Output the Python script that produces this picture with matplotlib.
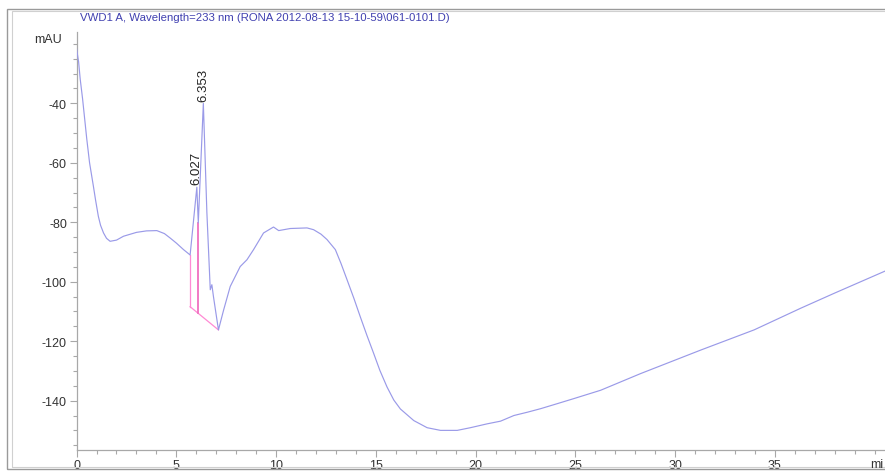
import matplotlib
matplotlib.use("Agg")
import matplotlib.pyplot as plt
from matplotlib.ticker import MultipleLocator
from matplotlib.patches import Rectangle

plt.rcParams['font.family'] = ['Liberation Sans', 'DejaVu Sans']
plt.rcParams['axes.unicode_minus'] = False

title = r"VWD1 A, Wavelength=233 nm (RONA 2012-08-13 15-10-59\061-0101.D)"

time_min = [0.0, 0.1, 0.18, 0.3, 0.51, 0.65, 0.84, 0.95, 1.09, 1.2, 1.35, 1.5, 1.68,
            2.0, 2.35, 3.0, 3.5, 4.02, 4.4, 4.69, 5.0, 5.36, 5.69, 6.027, 6.10,
            6.353, 6.53, 6.70, 6.78, 6.86, 7.11, 7.37, 7.70, 8.2, 8.54, 8.87,
            9.37, 9.87, 10.13, 10.71, 11.55, 11.88, 12.25, 12.55, 12.97, 13.25,
            13.56, 13.9, 14.22, 14.55, 14.89, 15.2, 15.56, 15.9, 16.23, 16.9,
            17.57, 18.24, 19.08, 19.74, 20.58, 21.25, 21.92, 22.59, 23.26, 24.1,
            24.93, 26.27, 28.27, 31.28, 33.96, 36.3, 37.97, 40.6]
signal_mau = [-21.7, -26.0, -31.8, -38.5, -52.0, -60.0, -67.8, -72.5, -78.0, -81.0,
              -83.6, -85.4, -86.4, -86.0, -84.7, -83.4, -82.9, -82.8, -83.8, -85.3,
              -87.0, -89.2, -91.0, -68.2, -80.2, -40.0, -76.7, -102.7, -101.0,
              -105.0, -116.2, -109.5, -101.6, -94.9, -92.6, -89.2, -83.6, -81.6,
              -82.8, -82.1, -81.9, -82.5, -84.0, -85.8, -89.2, -93.8, -99.4, -105.6,
              -111.8, -118.0, -124.1, -129.8, -135.4, -139.8, -142.8, -146.7, -149.1,
              -150.0, -150.0, -149.1, -147.8, -146.9, -145.0, -143.9, -142.7, -141.0,
              -139.3, -136.5, -130.9, -123.0, -116.2, -108.9, -103.9, -96.2]

# integration baseline (start, end) and drop lines
baseline_t = [5.69, 7.11]
baseline_v = [-108.4, -116.2]
drop_t = [5.69, 6.10]
drop_top = [-91.0, -80.2]
drop_bottom = [-108.4, -110.65]

peak_t = [6.027, 6.353]
peak_v = [-68.2, -40.0]
peak_labels = ["6.027", "6.353"]

W, H = 885, 477
fig = plt.figure(figsize=(W / 100, H / 100), dpi=100)
ax = fig.add_axes([76.6 / W, 1 - 450.7 / H, 1 - 76.6 / W, (450.7 - 33.3) / H])

line_col = '#9a9ae8'
pink = '#ff8ad4'
ax.plot(time_min, signal_mau, color=line_col, lw=0.85, zorder=3,
        solid_joinstyle='round')
ax.plot(baseline_t, baseline_v, color=pink, lw=0.9, zorder=2)
for i, (t, a, b) in enumerate(zip(drop_t, drop_top, drop_bottom)):
    ax.plot([t, t], [a, b], color=pink if i == 0 else '#f070c0',
            lw=0.9 if i == 0 else 1.3, zorder=2)

for t, v, s in zip(peak_t, peak_v, peak_labels):
    ax.annotate(s, (t, v), xytext=(0, 2), textcoords='offset points', rotation=90,
                ha='center', va='bottom', fontsize=9.5, color='#222222')

ax.set_xlim(0, (W - 76.6) / 19.95)
ax.set_ylim(-156.5, -16.1)

for side in ['top', 'right']:
    ax.spines[side].set_visible(False)
for side in ['left', 'bottom']:
    ax.spines[side].set_color('#a8a8a8')
    ax.spines[side].set_linewidth(0.9)

ax.xaxis.set_minor_locator(MultipleLocator(1))
ax.yaxis.set_minor_locator(MultipleLocator(5))
ax.set_yticks([-140, -120, -100, -80, -60, -40])
ax.set_xticks(list(range(0, 40, 5)))
ax.tick_params(axis='both', which='major', direction='out', length=5, width=0.8,
               color='#a8a8a8', labelsize=9, labelcolor='#333333', pad=2)
ax.tick_params(axis='both', which='minor', direction='out', length=3, width=0.8,
               color='#a8a8a8')

fig.text(34 / W, 1 - 40 / H, "mAU", fontsize=9, color='#333333', va='center', ha='left')
fig.text(870 / W, 1 - 465 / H, "mi", fontsize=9, color='#333333', va='center', ha='left')
fig.text(80 / W, 1 - 18 / H, title, fontsize=8.2, color='#4040b0', va='center', ha='left')

# outer frame
fig.patches.append(Rectangle((7 / W, 1 - 470 / H), (W + 5 - 7) / W, (470 - 10) / H,
                             transform=fig.transFigure, fill=False, ec='#9a9a9a', lw=1.0))
fig.patches.append(Rectangle((11.5 / W, 1 - 468 / H), (W + 5 - 11.5) / W, (468 - 12) / H,
                             transform=fig.transFigure, fill=False, ec='#d0d0d0', lw=0.8))

fig.savefig("out.png", dpi=100)
